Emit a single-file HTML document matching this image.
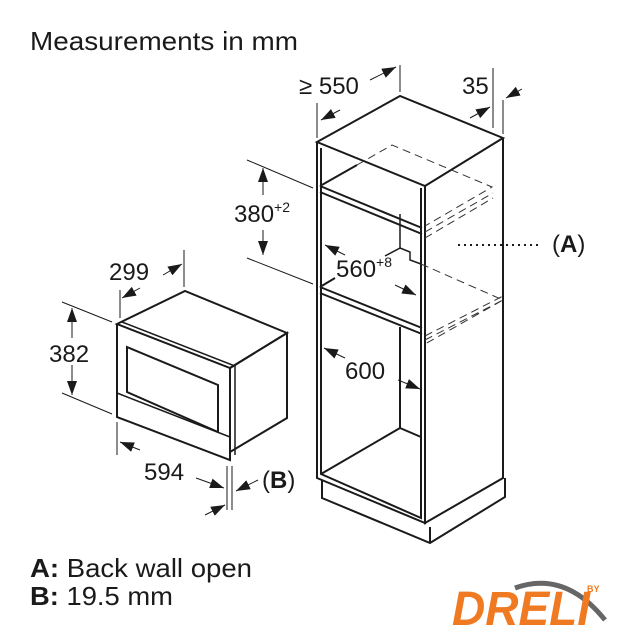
<!DOCTYPE html>
<html><head><meta charset="utf-8"><style>
html,body{margin:0;padding:0;background:#fff;}
svg{display:block;}
text{font-family:"Liberation Sans",sans-serif;fill:#1a1a1a;}
</style></head><body>
<svg width="640" height="640" viewBox="0 0 640 640" xmlns="http://www.w3.org/2000/svg">
<defs>
<marker id="ar2" markerWidth="14" markerHeight="10" refX="14" refY="5" orient="auto" markerUnits="userSpaceOnUse">
<path d="M0,0 L14,5 L0,10 Z" fill="#1a1a1a"/></marker>
</defs>
<text x="30" y="50" font-size="26" textLength="268" lengthAdjust="spacingAndGlyphs">Measurements in mm</text>

<g stroke="#1a1a1a" fill="none" stroke-width="2">
<path d="M317,142 L400,96 L503,138 L425,186 Z" fill="#fff"/>
<path d="M317,142 L317,478 L425,523 L425,186"/>
<path d="M425,186 L425,523 L503,478 L503,138"/>
<path d="M321,148 L321,474 L421,518 L421,188"/>
<path d="M322,480 L322,498 L430,543 L505,497 L505,478"/>
<path d="M430,527 L430,543"/>
<path d="M320,186 L422,228 M320,192 L422,234"/>
<path d="M320,287 L422,328 M320,293 L422,334"/>
<path d="M320,186 L357,165 M320,287 L335,278"/>
<path d="M400,327 L400,428 L421,437 M400,428 L321,474"/>
<path d="M400,214 L400,248 L385,256 M400,248 L410,252 L410,260 L421,264" stroke-width="1.5"/>
</g>
<g stroke="#333" fill="none" stroke-width="1" stroke-dasharray="8,5">
<path d="M357,165 L392,145 L492,187 L425,226"/>
<path d="M425,232 L493,193 M425,238 L493,198"/>
<path d="M421,264 L503,300 L425,344 M425,336 L503,296 M425,340 L503,300"/>
</g>
<path d="M458,245 L538,245" stroke="#1a1a1a" stroke-width="2" stroke-dasharray="2,4"/>
<text x="552" y="252" font-size="24">(<tspan font-weight="bold">A</tspan>)</text>

<g stroke="#1a1a1a" stroke-width="1" fill="none">
<path d="M317,138 L317,103 M400,92 L400,65"/>
<path d="M340,110 L321,120" marker-end="url(#ar2)"/>
<path d="M370,80 L396,67" marker-end="url(#ar2)"/>
<path d="M493,128 L493,68 M503,134 L503,100"/>
<path d="M470,118 L490,107" marker-end="url(#ar2)"/>
<path d="M522,89 L506,98" marker-end="url(#ar2)"/>
<path d="M247,160 L313,188 M247,258 L313,284"/>
<path d="M263,195 L263,168" marker-end="url(#ar2)"/>
<path d="M263,230 L263,255" marker-end="url(#ar2)"/>
<path d="M345,255 L325,245" marker-end="url(#ar2)"/>
<path d="M395,285 L416,295" marker-end="url(#ar2)"/>
<path d="M345,358 L324,348" marker-end="url(#ar2)"/>
<path d="M398,380 L420,389" marker-end="url(#ar2)"/>
</g>
<text x="299" y="94" font-size="24">≥ 550</text>
<text x="462" y="94" font-size="24">35</text>
<text x="234" y="222" font-size="24">380<tspan font-size="14" dy="-10">+2</tspan></text>
<text x="336" y="277" font-size="24">560<tspan font-size="14" dy="-10">+8</tspan></text>
<text x="345" y="379" font-size="24">600</text>

<g stroke="#1a1a1a" fill="none" stroke-width="2">
<path d="M117,324 L185,291 L287,333 L230,368 Z" fill="#fff"/>
<path d="M117,324 L117,417 L230,460 L230,368"/>
<path d="M230,368 L287,333 L287,418 L230,452"/>
<path d="M122,322 L235,366 L235,455" stroke-width="1.5"/>
<path d="M127,347 L218,385 L218,432 L127,392 Z"/>
<path d="M117,393 L230,437" stroke-width="1.5"/>
</g>
<g stroke="#1a1a1a" stroke-width="1" fill="none">
<path d="M120,318 L120,290 M184,287 L184,250"/>
<path d="M140,288 L122,298" marker-end="url(#ar2)"/>
<path d="M163,275 L182,264" marker-end="url(#ar2)"/>
<path d="M62,302 L112,322 M62,393 L112,414"/>
<path d="M72,338 L72,308" marker-end="url(#ar2)"/>
<path d="M72,365 L72,395" marker-end="url(#ar2)"/>
<path d="M117,422 L117,455 M227,466 L227,510 M232,466 L232,510"/>
<path d="M140,450 L120,442" marker-end="url(#ar2)"/>
<path d="M196,478 L224,488" marker-end="url(#ar2)"/>
<path d="M205,515 L225,505" marker-end="url(#ar2)"/>
<path d="M258,480 L236,491" marker-end="url(#ar2)"/>
</g>
<text x="109" y="280" font-size="24">299</text>
<text x="49" y="362" font-size="24">382</text>
<text x="144" y="480" font-size="24">594</text>
<text x="262" y="488" font-size="24">(<tspan font-weight="bold">B</tspan>)</text>

<text x="30" y="577" font-size="26" textLength="222" lengthAdjust="spacingAndGlyphs"><tspan font-weight="bold">A:</tspan> Back wall open</text>
<text x="30" y="605" font-size="26" textLength="143" lengthAdjust="spacingAndGlyphs"><tspan font-weight="bold">B:</tspan> 19.5 mm</text>

<path d="M515,588 Q565,570 605,620" stroke="#666" stroke-width="5" fill="none"/>
<text x="452" y="625" font-size="48" font-weight="bold" font-style="italic" style="fill:#f07a21" textLength="138" lengthAdjust="spacingAndGlyphs">DRELI</text>
<text x="587" y="592" font-size="9" font-weight="bold" style="fill:#f07a21">BY</text>
</svg>
</body></html>
